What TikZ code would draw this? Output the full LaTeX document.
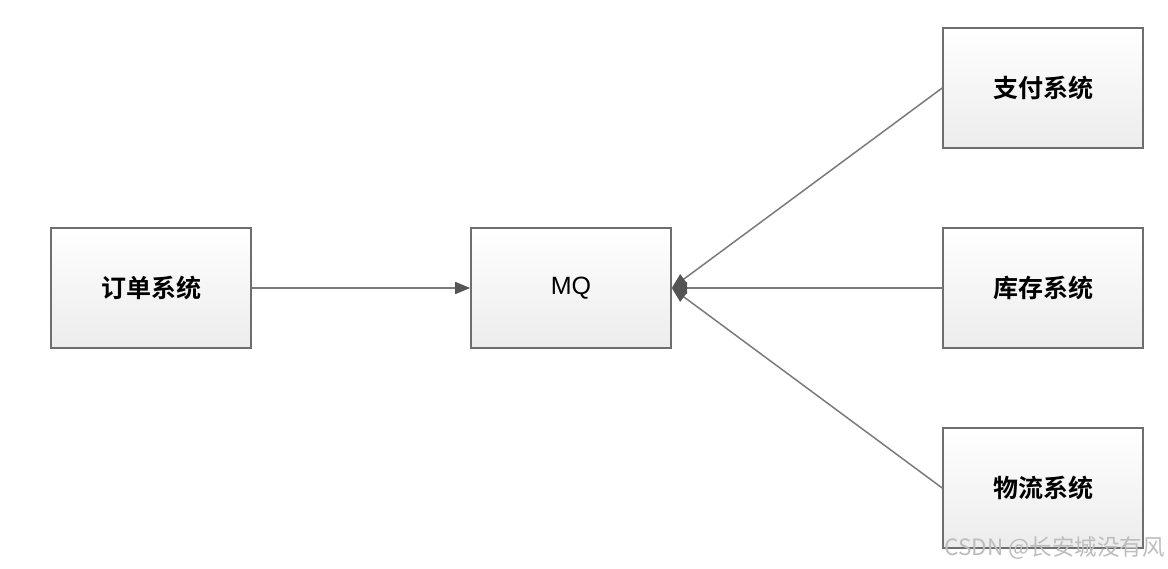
\documentclass[tikz,border=0pt]{standalone}
\usepackage{fontspec}
\setmainfont{Liberation Sans}
\newfontfamily\cjk{Noto Sans CJK SC}
\newfontfamily\cjkb{Noto Sans CJK SC Bold}
\usetikzlibrary{arrows.meta}
\definecolor{boxline}{HTML}{6E6E6E}
\definecolor{conline}{HTML}{7A7A7A}
\definecolor{tipcol}{HTML}{555555}
\definecolor{boxbot}{HTML}{ECECEC}
\definecolor{wmark}{HTML}{BDBDBD}
\begin{document}
\begin{tikzpicture}[x=1pt,y=-1pt,
  sysbox/.style={draw=boxline,line width=1.6pt,top color=white,bottom color=boxbot,
    minimum width=200pt,minimum height=120pt,inner sep=0pt,font=\cjkb\fontsize{25}{30}\selectfont},
  conn/.style={draw=conline,line width=1.5pt,-{Triangle[length=15pt,width=12pt,fill=tipcol,color=tipcol]}}]
\useasboundingbox (0,0) rectangle (1168,568);
\node[sysbox] (order) at (151,288) {订单系统};
\node[sysbox,font=\fontsize{25}{30}\selectfont] (mq) at (571,288) {MQ};
\node[sysbox] (pay) at (1043,88) {支付系统};
\node[sysbox] (stock) at (1043,288) {库存系统};
\node[sysbox] (logi) at (1043,488) {物流系统};
\draw[conn] (order.east) -- (mq.west);
\draw[conn] (pay.west) -- (mq.east);
\draw[conn] (stock.west) -- (mq.east);
\draw[conn] (logi.west) -- (mq.east);
\node[text=wmark,font=\cjk\fontsize{22.5}{26}\selectfont,anchor=east,inner sep=0pt] (wm) at (1165,548) {CSDN @长安城没有风};
\end{tikzpicture}
\end{document}
